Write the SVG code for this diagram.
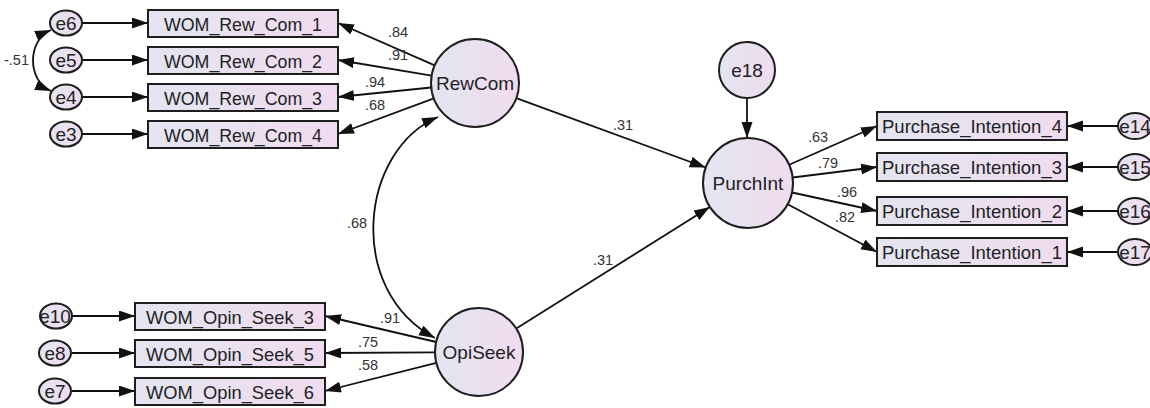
<svg xmlns="http://www.w3.org/2000/svg" width="1150" height="408" viewBox="0 0 1150 408">
<defs>
<linearGradient id="g" x1="0" y1="0" x2="1" y2="0">
<stop offset="0" stop-color="#e3e5f1"/>
<stop offset="1" stop-color="#f0dbef"/>
</linearGradient>
<marker id="ah" markerUnits="userSpaceOnUse" markerWidth="18" markerHeight="14" refX="16" refY="5.5" orient="auto-start-reverse">
<path d="M0,0 L16,5.5 L0,11 z" fill="#111"/>
</marker>
<style>
.box{fill:url(#g);stroke:#1e1e1e;stroke-width:2}
.lat{fill:url(#g);stroke:#1e1e1e;stroke-width:2}
.t{font-family:"Liberation Sans",Arial,sans-serif;font-size:19px;fill:#222;text-anchor:middle}
.e{font-family:"Liberation Sans",Arial,sans-serif;font-size:19px;fill:#222;text-anchor:middle}
.lb{font-family:"Liberation Sans",Arial,sans-serif;font-size:14.5px;fill:#333}
.c{stroke:#111;stroke-width:1.8;fill:none}
.a{stroke:#111;stroke-width:1.8;fill:none;marker-end:url(#ah)}
.d{stroke:#111;stroke-width:1.8;fill:none;marker-end:url(#ah);marker-start:url(#ah)}
</style>
</defs>

<g id="connectors">
<line class="a" x1="82" y1="23" x2="148" y2="23"/>
<line class="a" x1="82" y1="60" x2="148" y2="60"/>
<line class="a" x1="82" y1="97" x2="148" y2="97"/>
<line class="a" x1="82" y1="134" x2="148" y2="134"/>
<path class="d" d="M51,30 C27,40 27,81 51,91"/>
<line class="a" x1="434.7" y1="65.4" x2="338" y2="23"/>
<line class="a" x1="431.6" y1="75.7" x2="338" y2="60"/>
<line class="a" x1="431.2" y1="87.5" x2="338" y2="97"/>
<line class="a" x1="433.8" y1="98.3" x2="338" y2="134"/>
<path class="d" d="M438,117 C360,150 345,290 435,338"/>
<line class="a" x1="436.2" y1="342" x2="325" y2="316"/>
<line class="a" x1="435" y1="352.3" x2="325" y2="353"/>
<line class="a" x1="436.3" y1="362.8" x2="325" y2="391"/>
<line class="a" x1="72" y1="316" x2="135" y2="316"/>
<line class="a" x1="72" y1="353" x2="135" y2="353"/>
<line class="a" x1="72" y1="391" x2="135" y2="391"/>
<line class="a" x1="516.3" y1="98.1" x2="705.7" y2="167.5"/>
<line class="a" x1="516.3" y1="328.6" x2="709.9" y2="206.9"/>
<line class="a" x1="747" y1="98" x2="747" y2="138"/>
<line class="a" x1="789.2" y1="164.8" x2="877" y2="126"/>
<line class="a" x1="792.7" y1="177.5" x2="877" y2="167"/>
<line class="a" x1="792" y1="192.5" x2="877" y2="211"/>
<line class="a" x1="787.7" y1="204.2" x2="877" y2="252"/>
<line class="a" x1="1118" y1="126" x2="1067" y2="126"/>
<line class="a" x1="1118" y1="167" x2="1067" y2="167"/>
<line class="a" x1="1118" y1="211" x2="1067" y2="211"/>
<line class="a" x1="1118" y1="252" x2="1067" y2="252"/>
<text class="lb" x="4" y="65">-.51</text>
<text class="lb" x="388" y="37">.84</text>
<text class="lb" x="388" y="60">.91</text>
<text class="lb" x="365" y="87">.94</text>
<text class="lb" x="365" y="110">.68</text>
<text class="lb" x="347" y="228">.68</text>
<text class="lb" x="380" y="323">.91</text>
<text class="lb" x="358" y="347">.75</text>
<text class="lb" x="358" y="370">.58</text>
<text class="lb" x="613" y="130">.31</text>
<text class="lb" x="593" y="265">.31</text>
<text class="lb" x="808" y="142">.63</text>
<text class="lb" x="818" y="168">.79</text>
<text class="lb" x="837" y="197">.96</text>
<text class="lb" x="835" y="222">.82</text>
</g>

<g id="e6"><ellipse class="lat" cx="66" cy="23" rx="16" ry="12.5"/><text class="e" x="66" y="29.5">e6</text></g>
<g id="e5"><ellipse class="lat" cx="66" cy="60" rx="16" ry="12.5"/><text class="e" x="66" y="66.5">e5</text></g>
<g id="e4"><ellipse class="lat" cx="66" cy="97" rx="16" ry="12.5"/><text class="e" x="66" y="103.5">e4</text></g>
<g id="e3"><ellipse class="lat" cx="66" cy="134" rx="16" ry="12.5"/><text class="e" x="66" y="140.5">e3</text></g>

<g id="WOM_Rew_Com_1"><rect class="box" x="148" y="10" width="190" height="27"/><text class="t" x="243" y="30.5" textLength="158" lengthAdjust="spacingAndGlyphs">WOM_Rew_Com_1</text></g>
<g id="WOM_Rew_Com_2"><rect class="box" x="148" y="47" width="190" height="27"/><text class="t" x="243" y="67.5" textLength="158" lengthAdjust="spacingAndGlyphs">WOM_Rew_Com_2</text></g>
<g id="WOM_Rew_Com_3"><rect class="box" x="148" y="84" width="190" height="27"/><text class="t" x="243" y="104.5" textLength="158" lengthAdjust="spacingAndGlyphs">WOM_Rew_Com_3</text></g>
<g id="WOM_Rew_Com_4"><rect class="box" x="148" y="121" width="190" height="27"/><text class="t" x="243" y="141.5" textLength="158" lengthAdjust="spacingAndGlyphs">WOM_Rew_Com_4</text></g>

<g id="RewCom"><circle class="lat" cx="475" cy="83" r="44"/><text class="t" x="475" y="90">RewCom</text></g>

<g id="e10"><ellipse class="lat" cx="56" cy="316" rx="16" ry="12.5"/><text class="e" x="55" y="322.5">e10</text></g>
<g id="e8"><ellipse class="lat" cx="55" cy="353" rx="16" ry="12.5"/><text class="e" x="55" y="359.5">e8</text></g>
<g id="e7"><ellipse class="lat" cx="55" cy="391" rx="16" ry="12.5"/><text class="e" x="55" y="397.5">e7</text></g>

<g id="WOM_Opin_Seek_3"><rect class="box" x="135" y="303" width="190" height="27"/><text class="t" x="230" y="323.5" textLength="168" lengthAdjust="spacingAndGlyphs">WOM_Opin_Seek_3</text></g>
<g id="WOM_Opin_Seek_5"><rect class="box" x="135" y="340" width="190" height="27"/><text class="t" x="230" y="360.5" textLength="168" lengthAdjust="spacingAndGlyphs">WOM_Opin_Seek_5</text></g>
<g id="WOM_Opin_Seek_6"><rect class="box" x="135" y="378" width="190" height="27"/><text class="t" x="230" y="398.5" textLength="168" lengthAdjust="spacingAndGlyphs">WOM_Opin_Seek_6</text></g>

<g id="OpiSeek"><circle class="lat" cx="479" cy="352" r="44"/><text class="t" x="479" y="359">OpiSeek</text></g>

<g id="e18"><circle class="lat" cx="747" cy="70" r="28"/><text class="e" x="747" y="77">e18</text></g>
<g id="PurchInt"><circle class="lat" cx="748" cy="183" r="45"/><text class="t" x="748" y="190">PurchInt</text></g>

<g id="Purchase_Intention_4"><rect class="box" x="877" y="112" width="190" height="28"/><text class="t" x="972" y="133" textLength="180" lengthAdjust="spacingAndGlyphs">Purchase_Intention_4</text></g>
<g id="Purchase_Intention_3"><rect class="box" x="877" y="153" width="190" height="28"/><text class="t" x="972" y="174" textLength="180" lengthAdjust="spacingAndGlyphs">Purchase_Intention_3</text></g>
<g id="Purchase_Intention_2"><rect class="box" x="877" y="197" width="190" height="28"/><text class="t" x="972" y="218" textLength="180" lengthAdjust="spacingAndGlyphs">Purchase_Intention_2</text></g>
<g id="Purchase_Intention_1"><rect class="box" x="877" y="238" width="190" height="28"/><text class="t" x="972" y="259" textLength="180" lengthAdjust="spacingAndGlyphs">Purchase_Intention_1</text></g>

<g id="e14"><ellipse class="lat" cx="1135" cy="126" rx="17" ry="13"/><text class="e" x="1135" y="132.5">e14</text></g>
<g id="e15"><ellipse class="lat" cx="1135" cy="167" rx="17" ry="13"/><text class="e" x="1135" y="173.5">e15</text></g>
<g id="e16"><ellipse class="lat" cx="1135" cy="211" rx="17" ry="13"/><text class="e" x="1135" y="217.5">e16</text></g>
<g id="e17"><ellipse class="lat" cx="1135" cy="252" rx="17" ry="13"/><text class="e" x="1135" y="258.5">e17</text></g>
</svg>
